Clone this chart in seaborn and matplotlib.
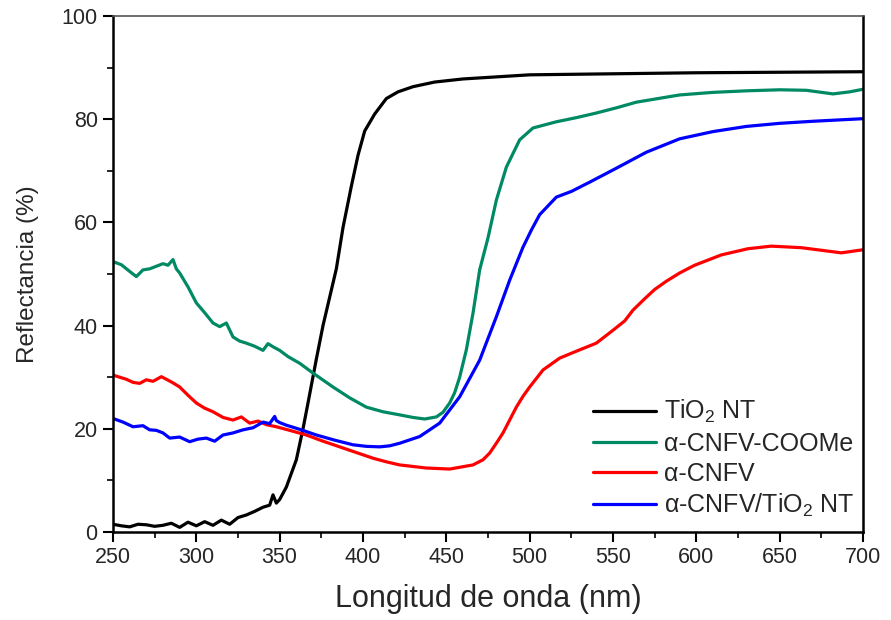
import numpy as np
import pandas as pd
import matplotlib
matplotlib.use("Agg")
import matplotlib.pyplot as plt
from matplotlib.ticker import MultipleLocator
import seaborn as sns

# ---------------- data ----------------
tio2_x = [250,255,260,265,270,275,280,285,290,295,300,305,310,315,320,325,330,335,340,344,346,348,350,354,360,364,367,372,376,380,384,388,393,397,401,407,414,421,430,443,460,480,500,550,600,650,700]
tio2_y = [1.5,1.2,1.0,1.5,1.4,1.1,1.3,1.7,0.9,1.9,1.2,2.0,1.3,2.3,1.5,2.8,3.3,4.0,4.8,5.2,7.2,5.6,6.3,8.7,14,20,25,33.5,40,45.5,51,59,67,73,77.7,81,84,85.3,86.3,87.2,87.8,88.2,88.6,88.8,89.0,89.1,89.2]

coome_x = [250,255,260,264,268,272,276,280,283,286,288,290,295,300,305,310,314,318,322,326,330,335,340,343,346,350,355,362,370,382,392,402,412,422,430,437,444,448,452,455,458,462,466,470,475,480,486,494,502,516,528,540,552,564,577,590,610,630,650,666,682,692,700]
coome_y = [52.4,51.8,50.5,49.5,50.8,51.0,51.5,52.0,51.7,52.8,51.0,50.2,47.5,44.4,42.5,40.5,39.8,40.5,37.8,37.0,36.6,36.0,35.2,36.5,35.9,35.2,34.0,32.7,30.8,28.1,26.0,24.2,23.3,22.7,22.2,21.9,22.3,23.2,25.0,27.0,30,35.3,42.4,50.8,57,64.3,70.7,76,78.3,79.5,80.3,81.2,82.2,83.3,84.0,84.7,85.2,85.5,85.7,85.6,84.9,85.3,85.8]

cnfv_x = [250,254,258,262,266,270,274,279,282,286,290,295,300,305,310,316,322,327,332,337,342,348,356,366,376,386,396,406,414,422,438,452,466,472,476,480,484,488,492,496,500,508,518,530,540,550,557,562,569,575,582,590,599,615,631,645,663,675,687,700]
cnfv_y = [30.4,30.0,29.6,29.0,28.8,29.5,29.2,30.1,29.6,28.9,28.1,26.5,25.0,24.0,23.3,22.2,21.7,22.3,21.1,21.5,20.8,20.4,19.7,18.8,17.6,16.5,15.4,14.3,13.6,13.0,12.4,12.2,13.0,14.0,15.3,17.2,19.2,21.7,24.2,26.3,28.1,31.4,33.7,35.3,36.6,39.1,40.9,43,45.2,47.0,48.6,50.2,51.7,53.7,54.9,55.4,55.1,54.6,54.1,54.7]

hyb_x = [250,256,262,268,272,276,280,284,290,296,301,306,311,316,322,328,334,340,344,347,348,350,354,362,372,383,394,402,410,416,422,434,446,458,470,480,488,496,501,506,516,525,536,552,570,590,610,630,650,670,700]
hyb_y = [22.0,21.3,20.4,20.6,19.8,19.7,19.2,18.2,18.4,17.5,18.0,18.2,17.6,18.8,19.2,19.8,20.2,21.3,21.0,22.4,21.6,21.2,20.7,19.9,18.8,17.8,16.9,16.6,16.5,16.7,17.2,18.5,21.1,26.2,33.3,41.7,48.8,55.2,58.5,61.5,64.9,66.0,67.8,70.5,73.6,76.2,77.6,78.6,79.2,79.6,80.1]

labels = ["TiO$_2$ NT", "\u03b1-CNFV-COOMe", "\u03b1-CNFV", "\u03b1-CNFV/TiO$_2$ NT"]
colors = ["#000000", "#008A64", "#FF0000", "#0000FF"]

frames = []
for lab, xs, ys in zip(labels, [tio2_x, coome_x, cnfv_x, hyb_x], [tio2_y, coome_y, cnfv_y, hyb_y]):
    frames.append(pd.DataFrame({"wl": xs, "R": ys, "muestra": lab}))
df = pd.concat(frames, ignore_index=True)

# ---------------- style ----------------
sns.set_theme(style="white")
plt.rcParams["font.family"] = ["Liberation Sans", "DejaVu Sans"]
plt.rcParams["mathtext.fontset"] = "custom"
plt.rcParams["mathtext.rm"] = "Liberation Sans"
plt.rcParams["mathtext.it"] = "Liberation Sans"
plt.rcParams["mathtext.bf"] = "Liberation Sans:bold"

fig = plt.figure(figsize=(8.91, 6.20), dpi=100)
ax = fig.add_axes([113/891, 1-532/620, 750/891, 516/620])

sns.lineplot(data=df, x="wl", y="R", hue="muestra", palette=dict(zip(labels, colors)),
             hue_order=labels, linewidth=2.3, ax=ax, sort=False, estimator=None)

ax.set_xlim(250, 700)
ax.set_ylim(0, 100)
ax.xaxis.set_major_locator(MultipleLocator(50))
ax.xaxis.set_minor_locator(MultipleLocator(25))
ax.yaxis.set_major_locator(MultipleLocator(20))
ax.yaxis.set_minor_locator(MultipleLocator(10))
ax.tick_params(axis="both", which="major", direction="out", length=7, width=1.5,
               labelsize=15.5, color="black", bottom=True, left=True, top=False, right=False, pad=4)
ax.tick_params(axis="both", which="minor", direction="out", length=4, width=1.2,
               color="black", bottom=True, left=True, top=False, right=False)

for s in ["left", "bottom", "right"]:
    ax.spines[s].set_color("black")
    ax.spines[s].set_linewidth(1.8)
ax.spines["top"].set_color("#555555")
ax.spines["top"].set_linewidth(1.2)

ax.set_xlabel("Longitud de onda (nm)", fontsize=22, labelpad=11)
ax.set_ylabel("Reflectancia (%)", fontsize=17.5, labelpad=16)

leg = ax.legend(loc="lower right", bbox_to_anchor=(1.014, -0.012), frameon=False, fontsize=18,
                handlelength=2.5, handletextpad=0.35, labelspacing=0.25, borderaxespad=0.35)
for h in leg.get_lines():
    h.set_linewidth(2.3)

fig.savefig("out.png", dpi=100)
